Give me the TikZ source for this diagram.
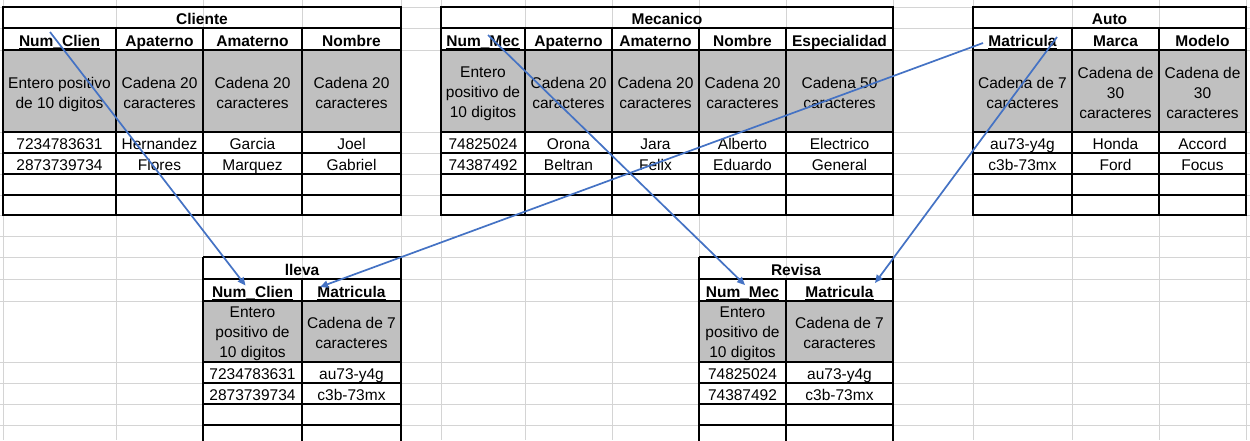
\documentclass[tikz,border=0pt]{standalone}
\usepackage{fontspec}
\setmainfont{Liberation Sans}
\usetikzlibrary{arrows.meta}
\definecolor{gridc}{HTML}{D4D4D4}
\definecolor{cellgray}{HTML}{C0C0C0}
\definecolor{linkblue}{HTML}{4472C4}
\newsavebox{\keybox}
\newcommand{\keyul}[1]{\sbox{\keybox}{#1}\rlap{\rule[-3.4pt]{\wd\keybox}{1.5pt}}\usebox{\keybox}}
\newcommand{\cellfont}{\fontsize{15.5pt}{20pt}\selectfont}
\tikzset{
  gridline/.style={draw=gridc, line width=1pt},
  border/.style={draw=black, line width=2pt},
  txt/.style={anchor=base, inner sep=0pt, font=\cellfont},
  hdr/.style={anchor=base, inner sep=0pt, font=\cellfont\bfseries},
  multi/.style={anchor=center, inner sep=0pt, align=center, font=\cellfont,
    execute at begin node=\strut, execute at end node=\strut},
  link/.style={draw=linkblue, line width=1.7pt, -{Triangle[length=8pt,width=7pt]}},
}
\begin{document}
\begin{tikzpicture}[x=1pt,y=-1pt]
\useasboundingbox (0,0) rectangle (1250,440);
\clip (0,0) rectangle (1250,440);
\fill[white] (0,0) rectangle (1250,440);
% spreadsheet grid
\foreach \x in {3,116,203,302,401,441,525,612,699,786,893,973,1072,1159,1246}
  \draw[gridline] (\x,0) -- (\x,440);
\foreach \y in {7,28,50,132,153,174,195,215,236,257,279,301,362,383,404,425}
  \draw[gridline] (0,\y) -- (1250,\y);

% ---------- Cliente ----------
\fill[cellgray] (3,50) rectangle (401,132);
\foreach \y in {28,50,132,153,174,195} \draw[border] (3,\y) -- (401,\y);
\foreach \x in {116,203,302} \draw[border] (\x,28) -- (\x,215);
\draw[border] (3,7) rectangle (401,215);
\node[hdr] (cliT) at (202,24) {Cliente};
\node[hdr] (cliH1) at (59.5,46) {\keyul{Num\_Clien}};
\node[hdr] (cliH2) at (159.5,46) {Apaterno};
\node[hdr] (cliH3) at (252.5,46) {Amaterno};
\node[hdr] (cliH4) at (351.5,46) {Nombre};
\node[multi] (cliG1) at (59.5,95.5) {Entero positivo\\de 10 digitos};
\node[multi] (cliG2) at (159.5,95.5) {Cadena 20\\caracteres};
\node[multi] (cliG3) at (252.5,95.5) {Cadena 20\\caracteres};
\node[multi] (cliG4) at (351.5,95.5) {Cadena 20\\caracteres};
\node[txt] (cliA1) at (59.5,149) {7234783631};
\node[txt] (cliA2) at (159.5,149) {Hernandez};
\node[txt] (cliA3) at (252.5,149) {Garcia};
\node[txt] (cliA4) at (351.5,149) {Joel};
\node[txt] (cliB1) at (59.5,170) {2873739734};
\node[txt] (cliB2) at (159.5,170) {Flores};
\node[txt] (cliB3) at (252.5,170) {Marquez};
\node[txt] (cliB4) at (351.5,170) {Gabriel};

% ---------- Mecanico ----------
\fill[cellgray] (441,50) rectangle (893,132);
\foreach \y in {28,50,132,153,174,195} \draw[border] (441,\y) -- (893,\y);
\foreach \x in {525,612,699,786} \draw[border] (\x,28) -- (\x,215);
\draw[border] (441,7) rectangle (893,215);
\node[hdr] (mecT) at (667,24) {Mecanico};
\node[hdr] (mecH1) at (483,46) {\keyul{Num\_Mec}};
\node[hdr] (mecH2) at (568.5,46) {Apaterno};
\node[hdr] (mecH3) at (655.5,46) {Amaterno};
\node[hdr] (mecH4) at (742.5,46) {Nombre};
\node[hdr] (mecH5) at (839.5,46) {Especialidad};
\node[multi] (mecG1) at (483,95.5) {Entero\\positivo de\\10 digitos};
\node[multi] (mecG2) at (568.5,95.5) {Cadena 20\\caracteres};
\node[multi] (mecG3) at (655.5,95.5) {Cadena 20\\caracteres};
\node[multi] (mecG4) at (742.5,95.5) {Cadena 20\\caracteres};
\node[multi] (mecG5) at (839.5,95.5) {Cadena 50\\caracteres};
\node[txt] (mecA1) at (483,149) {74825024};
\node[txt] (mecA2) at (568.5,149) {Orona};
\node[txt] (mecA3) at (655.5,149) {Jara};
\node[txt] (mecA4) at (742.5,149) {Alberto};
\node[txt] (mecA5) at (839.5,149) {Electrico};
\node[txt] (mecB1) at (483,170) {74387492};
\node[txt] (mecB2) at (568.5,170) {Beltran};
\node[txt] (mecB3) at (655.5,170) {Felix};
\node[txt] (mecB4) at (742.5,170) {Eduardo};
\node[txt] (mecB5) at (839.5,170) {General};

% ---------- Auto ----------
\fill[cellgray] (973,50) rectangle (1246,132);
\foreach \y in {28,50,132,153,174,195} \draw[border] (973,\y) -- (1246,\y);
\foreach \x in {1072,1159} \draw[border] (\x,28) -- (\x,215);
\draw[border] (973,7) rectangle (1246,215);
\node[hdr] (autT) at (1109.5,24) {Auto};
\node[hdr] (autH1) at (1022.5,46) {\keyul{Matricula}};
\node[hdr] (autH2) at (1115.5,46) {Marca};
\node[hdr] (autH3) at (1202.5,46) {Modelo};
\node[multi] (autG1) at (1022.5,95.5) {Cadena de 7\\caracteres};
\node[multi] (autG2) at (1115.5,95.5) {Cadena de\\30\\caracteres};
\node[multi] (autG3) at (1202.5,95.5) {Cadena de\\30\\caracteres};
\node[txt] (autA1) at (1022.5,149) {au73-y4g};
\node[txt] (autA2) at (1115.5,149) {Honda};
\node[txt] (autA3) at (1202.5,149) {Accord};
\node[txt] (autB1) at (1022.5,170) {c3b-73mx};
\node[txt] (autB2) at (1115.5,170) {Ford};
\node[txt] (autB3) at (1202.5,170) {Focus};

% ---------- lleva ----------
\fill[cellgray] (203,301) rectangle (401,362);
\foreach \y in {257,279,301,362,383,404,425} \draw[border] (203,\y) -- (401,\y);
\draw[border] (302,279) -- (302,450);
\draw[border] (203,257) -- (203,450);
\draw[border] (401,257) -- (401,450);
\node[hdr] (lleT) at (302,275) {lleva};
\node[hdr] (lleH1) at (252.5,297) {\keyul{Num\_Clien}};
\node[hdr] (lleH2) at (351.5,297) {\keyul{Matricula}};
\node[multi] (lleG1) at (252.5,335.5) {Entero\\positivo de\\10 digitos};
\node[multi] (lleG2) at (351.5,335.5) {Cadena de 7\\caracteres};
\node[txt] (lleA1) at (252.5,379) {7234783631};
\node[txt] (lleA2) at (351.5,379) {au73-y4g};
\node[txt] (lleB1) at (252.5,400) {2873739734};
\node[txt] (lleB2) at (351.5,400) {c3b-73mx};

% ---------- Revisa ----------
\fill[cellgray] (699,301) rectangle (893,362);
\foreach \y in {257,279,301,362,383,404,425} \draw[border] (699,\y) -- (893,\y);
\draw[border] (786,279) -- (786,450);
\draw[border] (699,257) -- (699,450);
\draw[border] (893,257) -- (893,450);
\node[hdr] (revT) at (796,275) {Revisa};
\node[hdr] (revH1) at (742.5,297) {\keyul{Num\_Mec}};
\node[hdr] (revH2) at (839.5,297) {\keyul{Matricula}};
\node[multi] (revG1) at (742.5,335.5) {Entero\\positivo de\\10 digitos};
\node[multi] (revG2) at (839.5,335.5) {Cadena de 7\\caracteres};
\node[txt] (revA1) at (742.5,379) {74825024};
\node[txt] (revA2) at (839.5,379) {au73-y4g};
\node[txt] (revB1) at (742.5,400) {74387492};
\node[txt] (revB2) at (839.5,400) {c3b-73mx};

% ---------- connectors ----------
\coordinate (cliKs) at (50,32);
\coordinate (lleKe) at (245.5,285.5);
\coordinate (mecKs) at (488,35);
\coordinate (revKe) at (745,285);
\coordinate (autKs1) at (983,43);
\coordinate (lleMe) at (320,287);
\coordinate (autKs2) at (1057,37);
\coordinate (revMe) at (875,283);
\draw[link] (cliKs) -- (lleKe);
\draw[link] (mecKs) -- (revKe);
\draw[link] (autKs1) -- (lleMe);
\draw[link] (autKs2) -- (revMe);
\end{tikzpicture}
\end{document}
